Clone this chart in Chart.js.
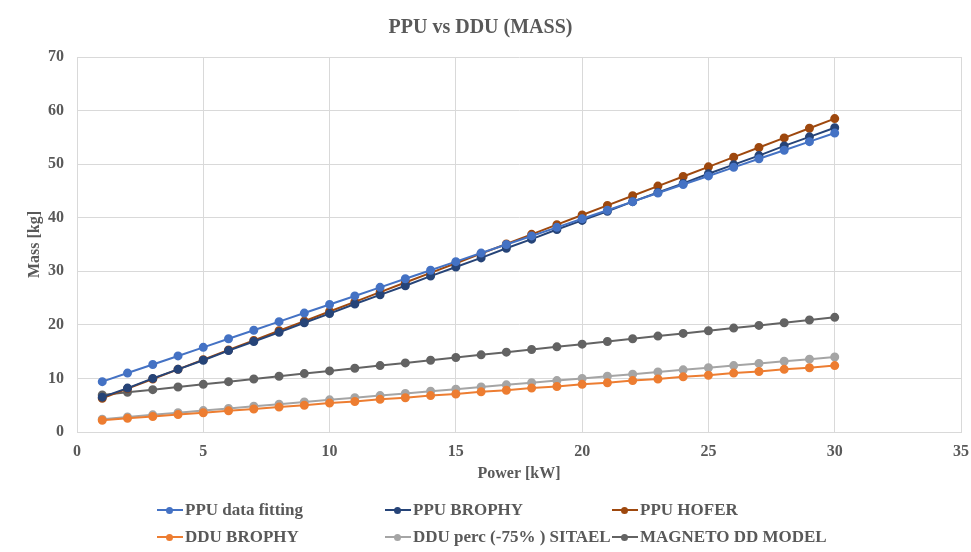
<!DOCTYPE html>
<html>
<head>
<meta charset="utf-8">
<script src="https://cdn.jsdelivr.net/npm/chart.js@4/dist/chart.umd.min.js"></script>
<style>
  html, body { margin: 0; padding: 0; background: #fff; }
  #wrap { position: relative; width: 971px; height: 552px; }
  #chart { position: absolute; left: 0; top: 0; }
  .leg-item {
    position: absolute; height: 20px; display: flex; align-items: center;
    font: bold 17px "Liberation Serif", "Times New Roman", serif; color: #595959;
    white-space: nowrap;
  }
  .leg-mark { position: relative; width: 26px; height: 20px; margin-right: 2px; }
  .leg-mark .ln { position: absolute; left: 0; right: 0; top: 9px; height: 2px; }
  .leg-mark .dt { position: absolute; left: 9px; top: 6.5px; width: 7px; height: 7px; border-radius: 50%; }
</style>
</head>
<body>
<div id="wrap">
  <canvas id="chart" width="971" height="552"></canvas>
  <div id="legend"></div>
</div>
<script>
// --- data ---
const power = [1, 2, 3, 4, 5, 6, 7, 8, 9, 10, 11, 12, 13, 14, 15, 16, 17, 18, 19, 20, 21, 22, 23, 24, 25, 26, 27, 28, 29, 30];

const ppuFitting = [9.4, 11.0, 12.6, 14.2, 15.8, 17.4, 19.0, 20.6, 22.2, 23.8, 25.4, 27.0, 28.6, 30.2, 31.8,
  33.4, 35.0, 36.6, 38.2, 39.8, 41.4, 43.0, 44.6, 46.2, 47.8, 49.4, 51.0, 52.6, 54.2, 55.8];
const ppuBrophy = [6.5, 8.2, 10.0, 11.7, 13.4, 15.2, 16.9, 18.6, 20.4, 22.1, 23.9, 25.6, 27.3, 29.1, 30.8,
  32.5, 34.3, 36.0, 37.8, 39.5, 41.2, 43.0, 44.7, 46.4, 48.2, 49.9, 51.6, 53.4, 55.1, 56.8];
const ppuHofer = [6.3, 8.1, 9.9, 11.7, 13.5, 15.3, 17.1, 18.9, 20.7, 22.5, 24.3, 26.1, 27.9, 29.7, 31.5,
  33.3, 35.1, 36.9, 38.7, 40.5, 42.3, 44.1, 45.9, 47.7, 49.5, 51.3, 53.1, 54.9, 56.7, 58.5];
const dduBrophy = [2.2, 2.55, 2.9, 3.25, 3.6, 3.95, 4.3, 4.65, 5.0, 5.4, 5.7, 6.1, 6.4, 6.8, 7.1,
  7.5, 7.8, 8.2, 8.5, 8.9, 9.2, 9.6, 9.9, 10.3, 10.6, 11.0, 11.3, 11.7, 12.0, 12.4];
const dduSitael = [2.4, 2.8, 3.2, 3.6, 4.0, 4.4, 4.8, 5.2, 5.6, 6.0, 6.4, 6.8, 7.2, 7.6, 8.0,
  8.4, 8.8, 9.2, 9.6, 10.0, 10.4, 10.8, 11.2, 11.6, 12.0, 12.4, 12.8, 13.2, 13.6, 14.0];
const magneto = [6.9, 7.4, 7.9, 8.4, 8.9, 9.4, 9.9, 10.4, 10.9, 11.4, 11.9, 12.4, 12.9, 13.4, 13.9,
  14.4, 14.9, 15.4, 15.9, 16.4, 16.9, 17.4, 17.9, 18.4, 18.9, 19.4, 19.9, 20.4, 20.9, 21.4];

const seriesNames = ["PPU data fitting", "PPU BROPHY", "PPU HOFER", "DDU BROPHY", "DDU perc (-75% ) SITAEL", "MAGNETO DD MODEL"];
const seriesValues = [ppuFitting, ppuBrophy, ppuHofer, dduBrophy, dduSitael, magneto];
const seriesColors = ["#4472C4", "#264478", "#9E480E", "#ED7D31", "#A5A5A5", "#636363"];

// legend grid slots (row-major, 3 columns)
const legendCols = [157, 385, 612];
const legendRows = [500, 527];

const textColor = "#595959";
const gridColor = "#d9d9d9";
const serif = "'Liberation Serif', 'Times New Roman', serif";

function toPoints(values) {
  return values.map((v, i) => ({ x: power[i], y: v }));
}

const datasets = seriesNames.map((name, i) => ({
  label: name,
  data: toPoints(seriesValues[i]),
  borderColor: seriesColors[i],
  backgroundColor: seriesColors[i],
  borderWidth: 2,
  pointRadius: 3.5,
  pointHoverRadius: 3.5,
  showLine: true,
  tension: 0,
  order: i,
}));

const ctx = document.getElementById("chart").getContext("2d");
const chart = new Chart(ctx, {
  type: "scatter",
  data: { datasets },
  options: {
    responsive: false,
    animation: false,
    layout: { padding: { left: 0, right: 10, top: 0, bottom: 65 } },
    plugins: {
      legend: { display: false },
      tooltip: { enabled: false },
      title: {
        display: true,
        text: "PPU vs DDU (MASS)",
        color: textColor,
        font: { family: serif, size: 20, weight: "bold" },
        padding: { top: 16, bottom: 17 },
      },
    },
    scales: {
      x: {
        type: "linear",
        min: 0,
        max: 35,
        ticks: {
          stepSize: 5,
          color: textColor,
          padding: 10,
          font: { family: serif, size: 16, weight: "bold" },
        },
        grid: { color: gridColor, drawTicks: false },
        border: { color: gridColor },
        title: {
          display: true,
          text: "Power [kW]",
          color: textColor,
          font: { family: serif, size: 16, weight: "bold" },
          padding: { top: 0, bottom: 4 },
        },
        afterFit: (scale) => {
          scale.height = 55;
          scale.paddingRight = 0;
          scale.paddingLeft = 0;
        },
      },
      y: {
        min: 0,
        max: 70,
        ticks: {
          stepSize: 10,
          color: textColor,
          padding: 13,
          font: { family: serif, size: 16, weight: "bold" },
        },
        grid: { color: gridColor, drawTicks: false },
        border: { color: gridColor },
        title: {
          display: true,
          text: "Mass [kg]",
          color: textColor,
          font: { family: serif, size: 16, weight: "bold" },
          padding: { top: 25, bottom: 0 },
        },
        afterFit: (scale) => { scale.width = 77; },
      },
    },
  },
});

// HTML legend laid out as a 3-column grid
const legendEl = document.getElementById("legend");
chart.data.datasets.forEach((ds, i) => {
  const item = document.createElement("div");
  item.className = "leg-item";
  item.style.left = legendCols[i % 3] + "px";
  item.style.top = legendRows[Math.floor(i / 3)] + "px";
  item.innerHTML =
    '<span class="leg-mark"><span class="ln" style="background:' + ds.borderColor + '"></span>' +
    '<span class="dt" style="background:' + ds.backgroundColor + '"></span></span>';
  item.appendChild(document.createTextNode(ds.label));
  legendEl.appendChild(item);
});
</script>
</body>
</html>
